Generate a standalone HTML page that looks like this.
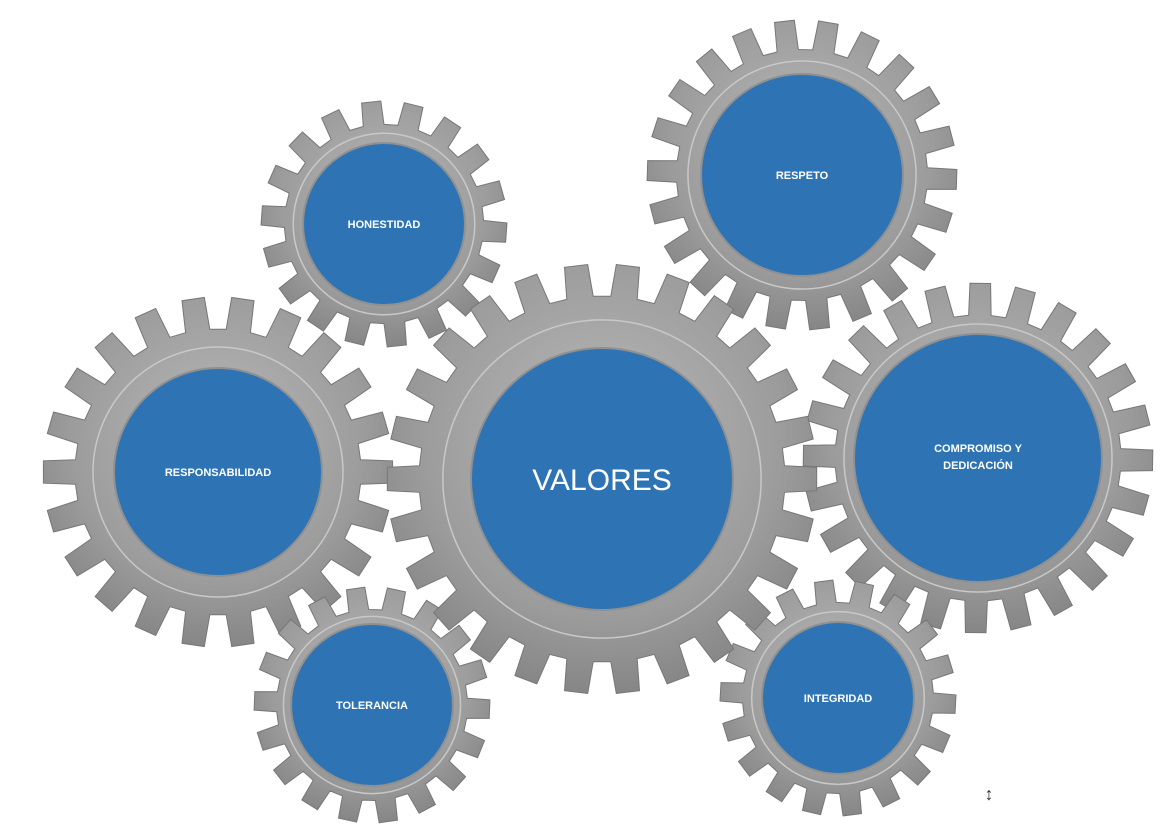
<!DOCTYPE html>
<html><head><meta charset="utf-8"><style>
html,body{margin:0;padding:0;background:#fff;}
svg{display:block}
text{font-family:"Liberation Sans",Calibri,sans-serif;fill:#fff;font-weight:bold;font-size:11px;text-anchor:middle}
</style></head><body>
<svg id="s" width="1163" height="833" viewBox="0 0 1163 833" xmlns="http://www.w3.org/2000/svg">
<defs>
<radialGradient id="g" cx="50%" cy="40%" r="60%">
<stop offset="0" stop-color="#b8b8b8"/><stop offset="0.7" stop-color="#9c9c9c"/><stop offset="1" stop-color="#868686"/>
</radialGradient>
</defs>
<g id="gears"></g>
<text x="384" y="228">HONESTIDAD</text>
<text x="802" y="179">RESPETO</text>
<text x="218" y="476">RESPONSABILIDAD</text>
<text x="602" y="490" style="font-size:30px;font-weight:normal">VALORES</text>
<text x="978" y="452">COMPROMISO Y</text>
<text x="978" y="469">DEDICACIÓN</text>
<text x="372" y="709">TOLERANCIA</text>
<text x="838" y="702">INTEGRIDAD</text>
<text x="989" y="800" style="fill:#333;font-size:18px;font-weight:normal">↕</text>
</svg>
<script>
var gears=[
[802,175,155,100,22,0.1],
[978,458,175,123,24,0.05],
[384,224,123,80,18,0.2],
[218,472,175,103,22,0.0],
[372,705,118,80,18,0.1],
[838,698,118,75,18,0.15],
[602,479,215,130,26,0.0]
];
var ns="http://www.w3.org/2000/svg",G=document.getElementById('gears');
gears.forEach(function(a){
 var cx=a[0],cy=a[1],R=a[2],b=a[3],N=a[4],off=a[5];
 var depth=Math.min(32,R*0.19),r1=R-depth,d="";
 for(var i=0;i<N;i++){
  var t=(i+off)*2*Math.PI/N,s=Math.PI/N;
  var pts=[[r1,t-s*0.6],[R,t-s*0.45],[R,t+s*0.45],[r1,t+s*0.6],[r1,t+s*1.4]];
  pts.forEach(function(p,j){
   var x=cx+p[0]*Math.cos(p[1]),y=cy+p[0]*Math.sin(p[1]);
   d+=(i==0&&j==0?"M":"L")+x.toFixed(1)+","+y.toFixed(1);
  });
 }
 d+="Z";
 var p=document.createElementNS(ns,'path');p.setAttribute('d',d);p.setAttribute('fill','url(#g)');
 p.setAttribute('stroke','#777');p.setAttribute('stroke-width','1');G.appendChild(p);
 var c=document.createElementNS(ns,'circle');c.setAttribute('cx',cx);c.setAttribute('cy',cy);
 c.setAttribute('r',b+(r1-b)*0.55);c.setAttribute('fill','none');c.setAttribute('stroke','#c8c8c8');c.setAttribute('stroke-width','1.5');G.appendChild(c);
 var c2=document.createElementNS(ns,'circle');c2.setAttribute('cx',cx);c2.setAttribute('cy',cy);
 c2.setAttribute('r',b+2);c2.setAttribute('fill','#909090');G.appendChild(c2);
 var c3=document.createElementNS(ns,'circle');c3.setAttribute('cx',cx);c3.setAttribute('cy',cy);
 c3.setAttribute('r',b);c3.setAttribute('fill','#2e74b5');G.appendChild(c3);
});
</script>
</body></html>
